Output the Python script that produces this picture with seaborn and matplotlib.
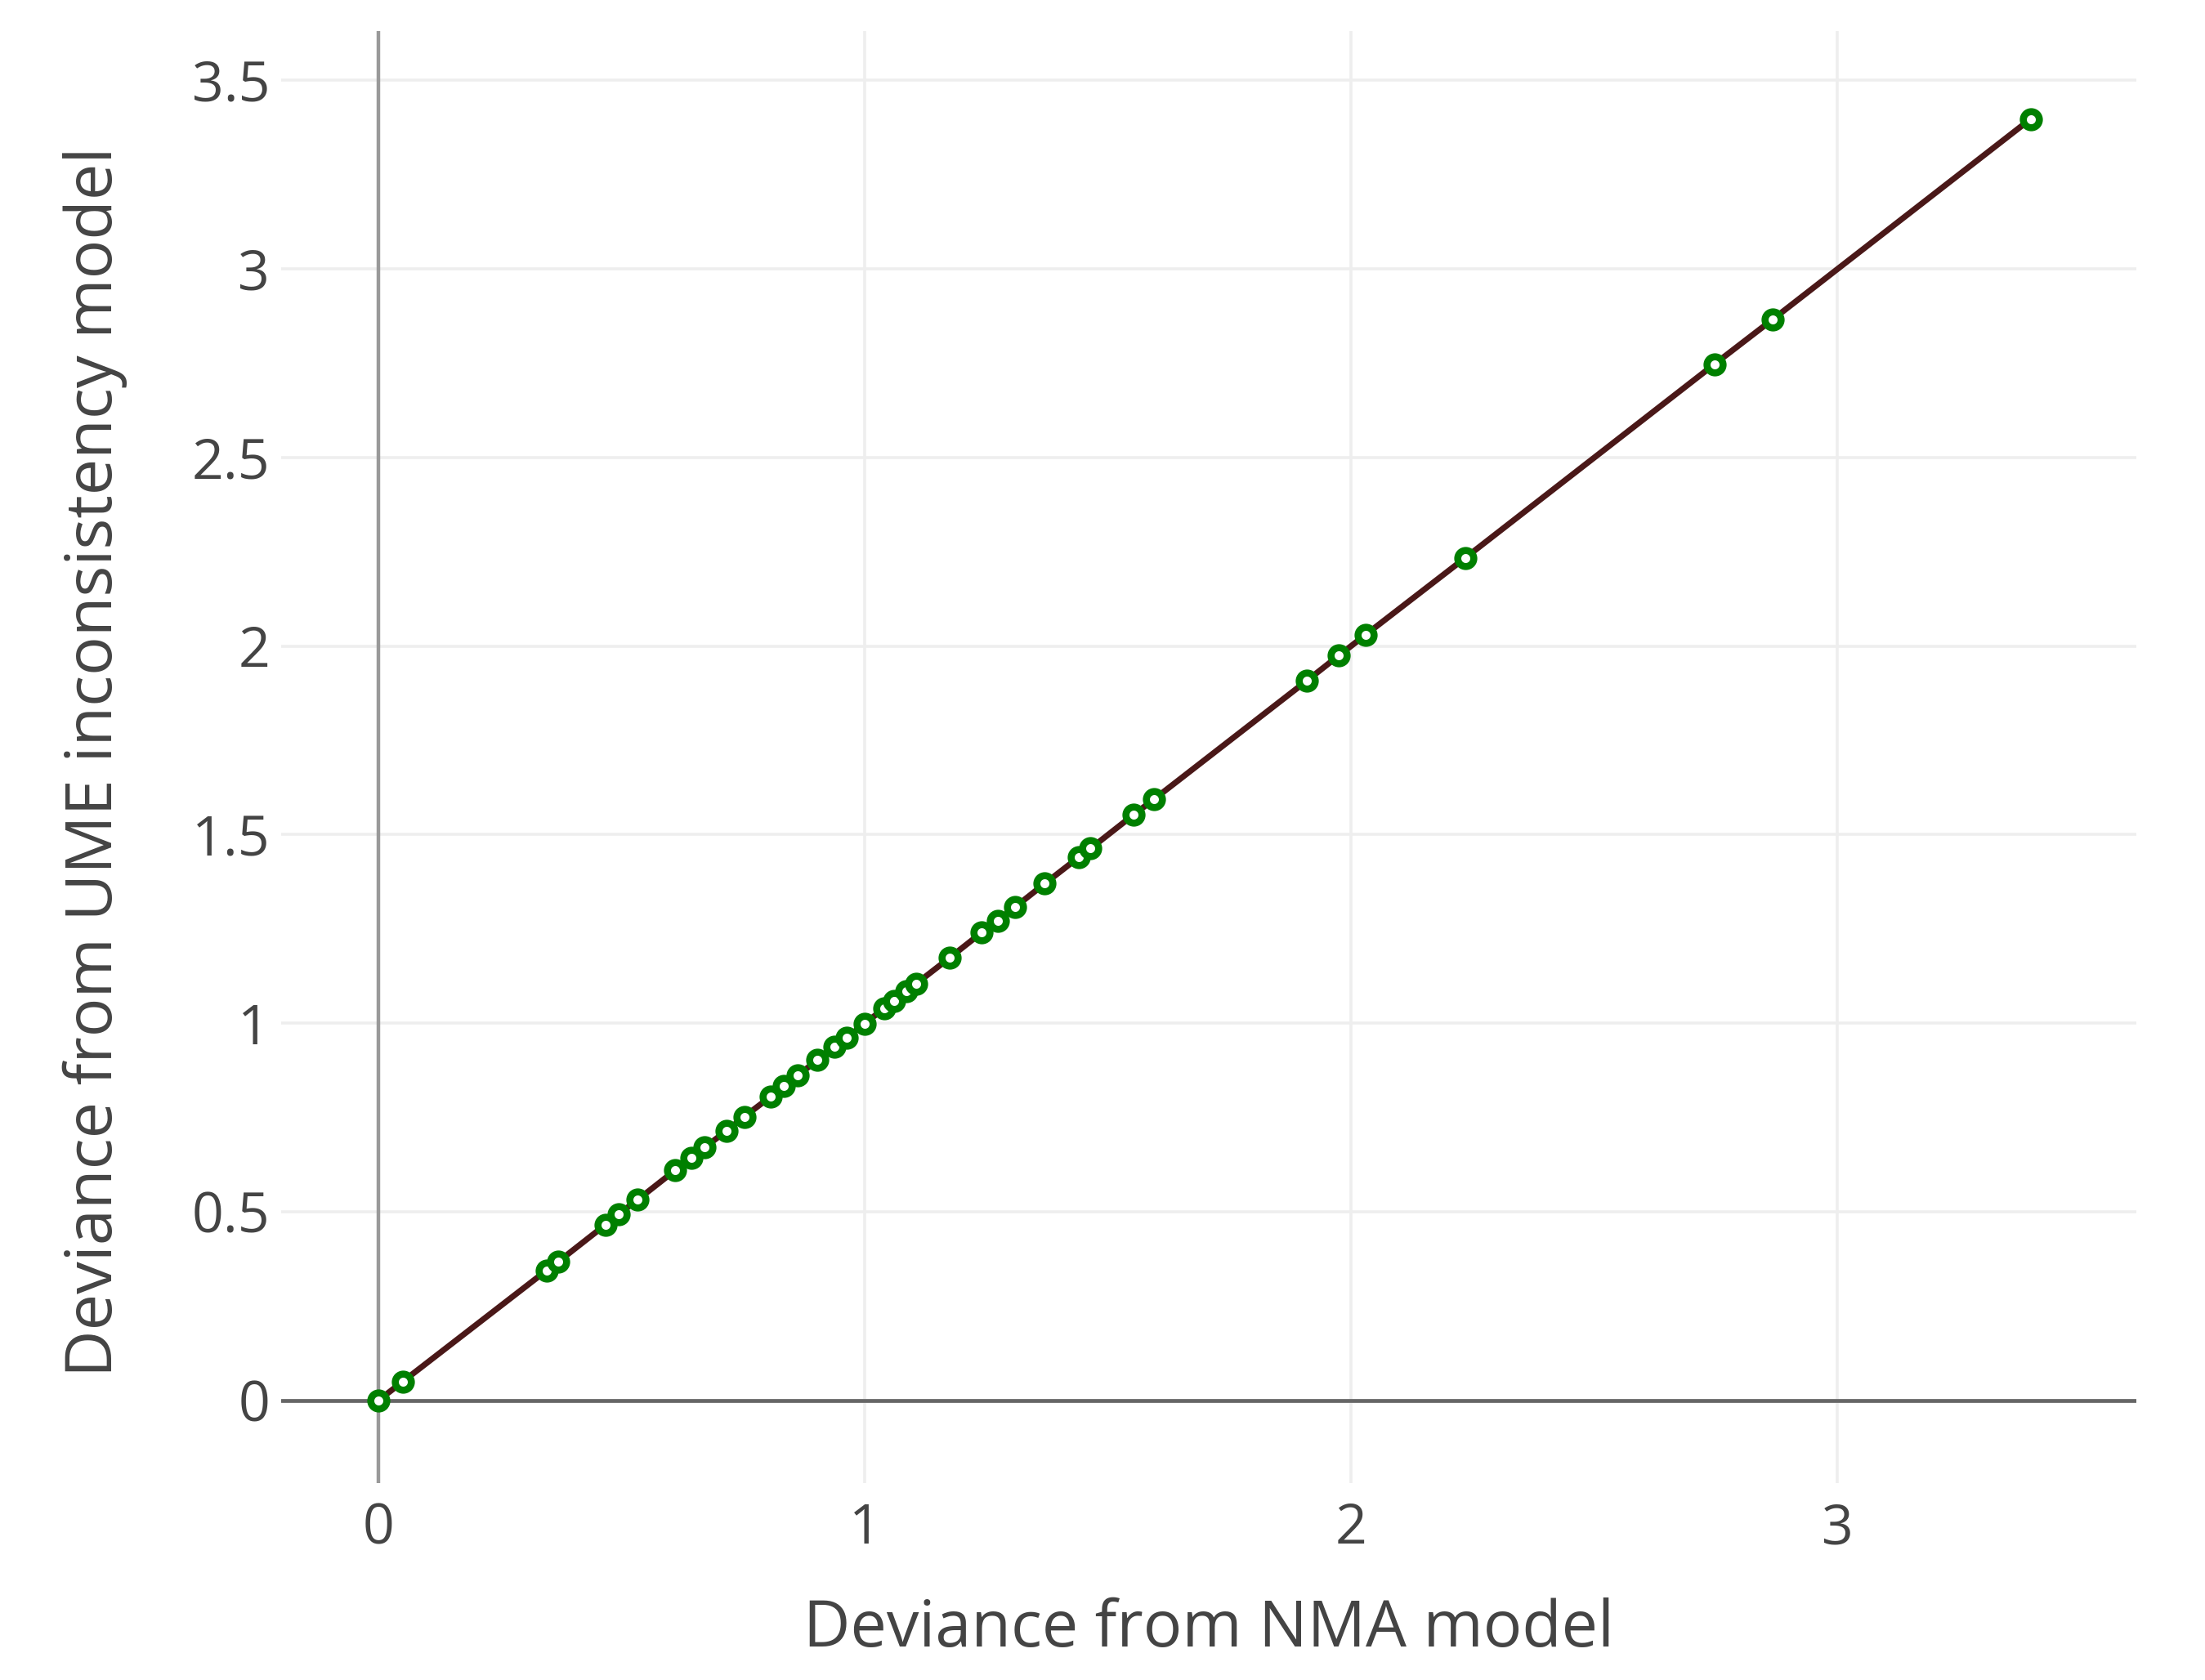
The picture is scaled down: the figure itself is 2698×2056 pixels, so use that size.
import pandas as pd
import matplotlib.pyplot as plt
import seaborn as sns

# deviance per data point
nma_dev = [0.0, 0.05, 0.346, 0.37, 0.467, 0.494, 0.533,
           0.61, 0.643, 0.671, 0.716, 0.752,
           0.806, 0.834, 0.862, 0.903, 0.937, 0.962, 1.0,
           1.04, 1.06, 1.086, 1.105, 1.175,
           1.24, 1.273, 1.309, 1.37, 1.44, 1.464, 1.553, 1.595,
           1.909, 1.975, 2.03, 2.235, 2.747, 2.867, 3.397]
ume_dev = [0.0, 0.05, 0.345, 0.368, 0.466, 0.494, 0.532,
           0.61, 0.642, 0.671, 0.715, 0.752,
           0.805, 0.834, 0.862, 0.902, 0.937, 0.961, 0.999,
           1.04, 1.06, 1.085, 1.104, 1.174,
           1.24, 1.272, 1.308, 1.37, 1.44, 1.463, 1.553, 1.594,
           1.908, 1.975, 2.03, 2.234, 2.747, 2.866, 3.397]

x_ticks = [0, 1, 2, 3]
y_ticks = [0, 0.5, 1, 1.5, 2, 2.5, 3, 3.5]
y_ticklabels = ["0", "0.5", "1", "1.5", "2", "2.5", "3", "3.5"]

df = pd.DataFrame({"nma": nma_dev, "ume": ume_dev}).sort_values("nma")

sns.set_theme(style="white")
plt.rcParams['font.family'] = ['Open Sans', 'DejaVu Sans']

fig = plt.figure(figsize=(13.49, 10.28), dpi=200)
ax = fig.add_axes([0.1275, 0.117, 0.8415, 0.8645])

ax.set_xlim(-0.2, 3.615)
ax.set_ylim(-0.22, 3.63)

for t in [1, 2, 3]:
    ax.axvline(t, color="#eeeeee", lw=1.3, zorder=0)
for t in y_ticks[1:]:
    ax.axhline(t, color="#eeeeee", lw=1.3, zorder=0)
ax.axvline(0, color="#999999", lw=1.6, zorder=1)
ax.axhline(0, color="#666666", lw=1.7, zorder=1)

sns.lineplot(data=df, x="nma", y="ume", color="#4a1818", lw=2.6,
             sort=True, ax=ax, zorder=2)
sns.scatterplot(data=df, x="nma", y="ume", s=50, marker="o",
                facecolor="white", edgecolor="#008000", linewidth=3.1,
                ax=ax, zorder=3)

for sp in ax.spines.values():
    sp.set_visible(False)

ax.set_xticks(x_ticks)
ax.set_xticklabels([str(t) for t in x_ticks])
ax.set_yticks(y_ticks)
ax.set_yticklabels(y_ticklabels)
ax.tick_params(axis="both", length=0, labelsize=24.5, labelcolor="#444444")
ax.tick_params(axis="x", pad=8)
ax.tick_params(axis="y", pad=5)

ax.set_xlabel("Deviance from NMA model", fontsize=28.5, color="#444444", labelpad=18)
ax.set_ylabel("Deviance from UME inconsistency model", fontsize=28.6, color="#444444")
ax.yaxis.set_label_coords(-0.083, 0.497)

fig.savefig("out.png", dpi=200, facecolor="white")
